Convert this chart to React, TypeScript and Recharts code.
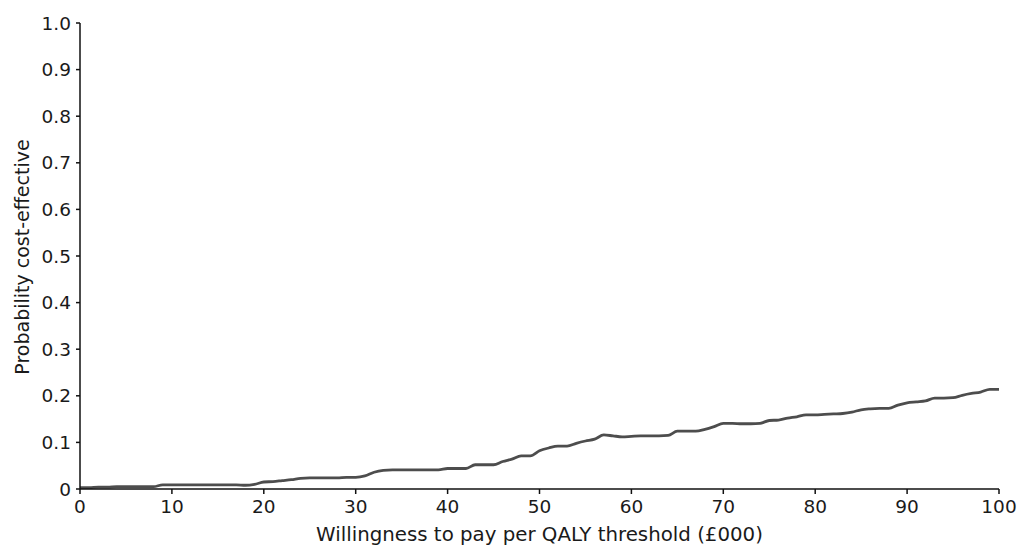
import React from "react";
import { LineChart, Line, XAxis, YAxis, Label } from "recharts";

const thresholds: number[] = Array.from({ length: 101 }, (_, i) => i);
const probability: number[] = [
  0.003, 0.003, 0.004, 0.004, 0.005, 0.005, 0.005, 0.005, 0.005, 0.009,
  0.009, 0.009, 0.009, 0.009, 0.009, 0.009, 0.009, 0.009, 0.008, 0.01,
  0.015, 0.016, 0.018, 0.02, 0.023, 0.024, 0.024, 0.024, 0.024, 0.025,
  0.025, 0.028, 0.036, 0.04, 0.041, 0.041, 0.041, 0.041, 0.041, 0.041,
  0.044, 0.044, 0.044, 0.052, 0.052, 0.052, 0.059, 0.064, 0.071, 0.071,
  0.082, 0.088, 0.092, 0.092, 0.098, 0.103, 0.107, 0.116, 0.114, 0.112,
  0.113, 0.114, 0.114, 0.114, 0.115, 0.124, 0.124, 0.124, 0.128, 0.134,
  0.141, 0.141, 0.14, 0.14, 0.141, 0.147, 0.148, 0.152, 0.155, 0.159,
  0.159, 0.16, 0.161, 0.162, 0.165, 0.17, 0.172, 0.173, 0.173, 0.18,
  0.185, 0.187, 0.189, 0.195, 0.195, 0.196, 0.201, 0.205, 0.208, 0.214,
  0.214,
];
const xTicks: number[] = [0, 10, 20, 30, 40, 50, 60, 70, 80, 90, 100];
const yTicks: number[] = [0, 0.1, 0.2, 0.3, 0.4, 0.5, 0.6, 0.7, 0.8, 0.9, 1.0];
const xTitle = "Willingness to pay per QALY threshold (£000)";
const yTitle = "Probability cost-effective";

const data = thresholds.map((t, i) => ({ x: t, y: probability[i] }));

const FONT = "'DejaVu Sans', sans-serif";
const FS = 18.5;
const tickStyle = { fontSize: FS, fill: "#1a1a1a", fontFamily: FONT };

export default function App() {
  return (
    <div style={{ position: "absolute", left: 0, top: 0, width: 1019, height: 546, background: "#fff" }}>
      <LineChart width={1019} height={546} data={data} margin={{ top: 23, right: 20, bottom: 0, left: 0 }}>
        <XAxis
          dataKey="x"
          type="number"
          domain={[0, 100]}
          ticks={xTicks}
          tick={tickStyle}
          tickSize={5}
          tickMargin={6}
          height={57}
          axisLine={{ stroke: "#111", strokeWidth: 1.5 }}
          tickLine={{ stroke: "#111", strokeWidth: 1.5 }}
          interval={0}
        >
          <Label
            content={(props: any) => {
              const vb = props.viewBox;
              return (
                <text
                  x={vb.x + vb.width / 2}
                  y={vb.y + 52}
                  textAnchor="middle"
                  style={{ fontSize: 19.8, fill: "#1a1a1a", fontFamily: FONT }}
                >
                  {xTitle}
                </text>
              );
            }}
          />
        </XAxis>
        <YAxis
          type="number"
          domain={[0, 1]}
          ticks={yTicks}
          tick={tickStyle}
          tickFormatter={(v: number) => (v === 0 ? "0" : v.toFixed(1))}
          tickSize={4}
          tickMargin={5}
          width={80}
          axisLine={{ stroke: "#111", strokeWidth: 1.5 }}
          tickLine={{ stroke: "#111", strokeWidth: 1.5 }}
          interval={0}
        >
          <Label
            content={(props: any) => {
              const vb = props.viewBox;
              const cx = vb.x + 22;
              const cy = vb.y + vb.height / 2 + 1;
              return (
                <text
                  x={cx}
                  y={cy}
                  textAnchor="middle"
                  dominantBaseline="central"
                  transform={`rotate(-90 ${cx} ${cy})`}
                  style={{ fontSize: 19, fill: "#1a1a1a", fontFamily: FONT }}
                >
                  {yTitle}
                </text>
              );
            }}
          />
        </YAxis>
        <Line
          type="monotone"
          dataKey="y"
          stroke="#4d4d4d"
          strokeWidth={2.8}
          dot={false}
          isAnimationActive={false}
        />
      </LineChart>
    </div>
  );
}
